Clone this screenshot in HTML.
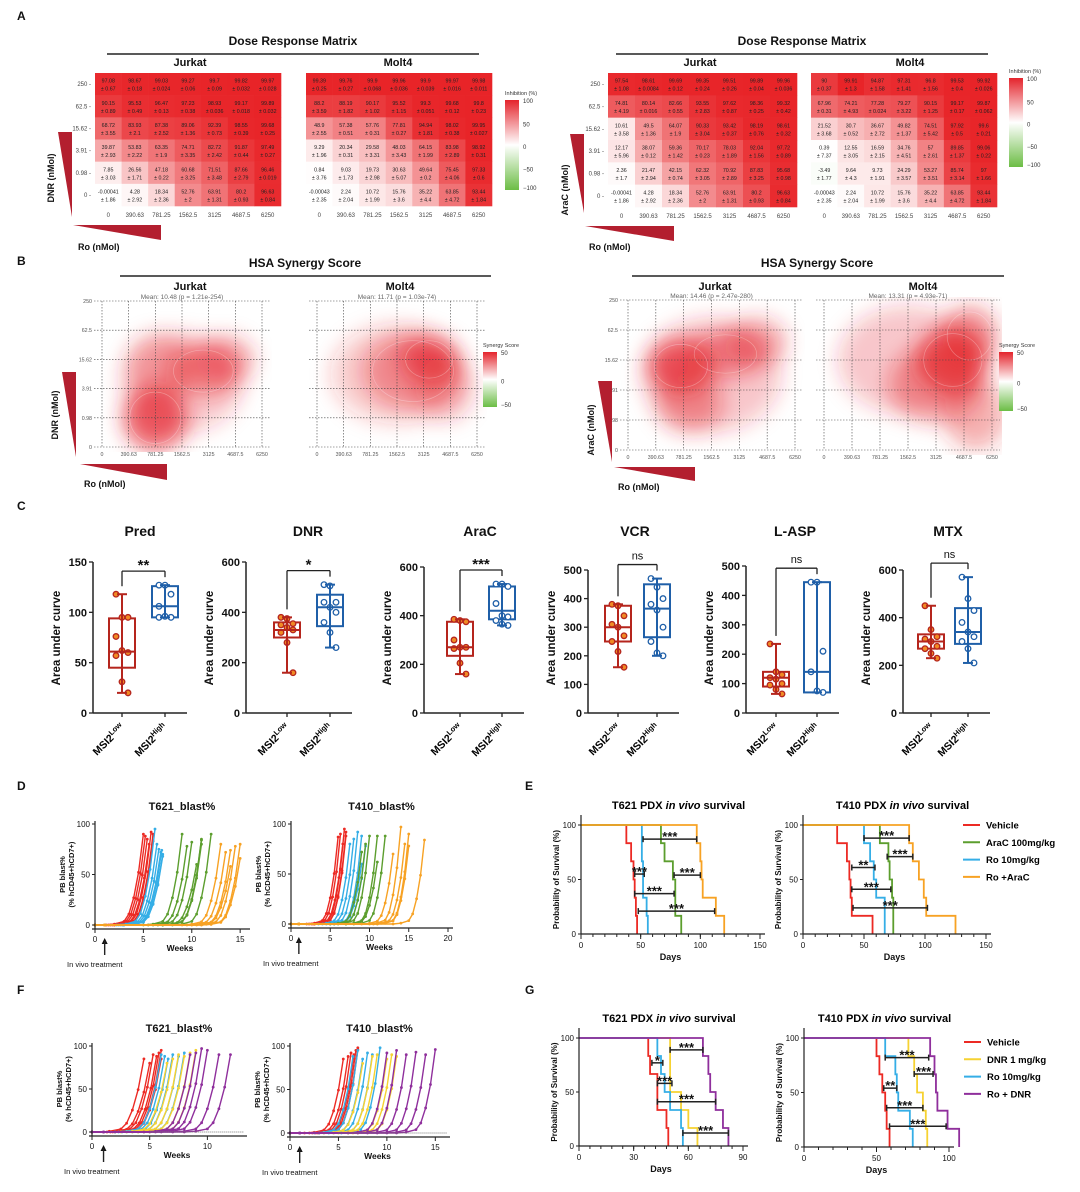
<!DOCTYPE html>
<html><head><meta charset="utf-8"><style>
body{margin:0;background:#fff}
svg{display:block;font-family:"Liberation Sans",Arial,sans-serif}
</style></head><body>
<svg id="fig" width="1080" height="1192" viewBox="0 0 1080 1192" xmlns="http://www.w3.org/2000/svg">
<defs>
<filter id="blur" x="-30%" y="-30%" width="160%" height="160%"><feGaussianBlur stdDeviation="10"/></filter>
<linearGradient id="cbar" x1="0" y1="0" x2="0" y2="1"><stop offset="0" stop-color="#e4242c"/><stop offset="0.5" stop-color="#ffffff"/><stop offset="1" stop-color="#6cbd45"/></linearGradient>
</defs>
</svg>
<script>
// ---------- DATA ----------
const doseCols=['0','390.63','781.25','1562.5','3125','4687.5','6250'];
const doseRows=['250','62.5','15.62','3.91','0.98','0'];
const jurkatDNR=[[97.08,98.67,99.03,99.27,99.7,99.82,99.97],[90.15,95.53,96.47,97.23,98.93,99.17,99.89],[68.72,83.93,87.38,89.06,92.39,98.55,99.68],[39.87,53.83,63.35,74.71,82.72,91.87,97.49],[7.85,26.56,47.18,60.68,71.51,87.66,96.46],[-0.00041,4.28,18.34,52.76,63.91,80.2,96.63]];
const jurkatDNRsd=[[0.67,0.18,0.024,0.06,0.09,0.032,0.028],[0.89,0.49,0.13,0.38,0.036,0.018,0.032],[3.55,2.1,2.52,1.36,0.73,0.39,0.25],[2.93,2.22,1.9,3.35,2.42,0.44,0.27],[3.03,1.71,0.22,3.25,3.48,2.79,0.019],[1.86,2.92,2.36,2,1.31,0.93,0.84]];
const molt4DNR=[[99.39,99.76,99.9,99.96,99.9,99.97,99.98],[88.2,88.19,90.17,95.52,99.3,99.68,99.8],[48.9,57.38,57.76,77.81,94.94,98.02,99.95],[9.29,20.34,29.58,48.03,64.15,83.98,98.92],[0.84,9.03,19.73,30.63,49.64,75.45,97.33],[-0.00043,2.24,10.72,15.76,35.22,63.85,93.44]];
const molt4DNRsd=[[0.25,0.27,0.068,0.036,0.039,0.016,0.011],[3.59,1.82,1.02,1.15,0.051,0.12,0.23],[2.55,0.51,0.31,0.27,1.81,0.38,0.027],[1.96,0.31,3.31,3.43,1.99,2.89,0.31],[3.76,1.73,2.98,5.07,0.2,4.06,0.6],[2.35,2.04,1.99,3.6,4.4,4.72,1.84]];
const jurkatAraC=[[97.54,98.61,99.69,99.35,99.51,99.89,99.96],[74.81,80.14,82.66,93.55,97.62,98.36,99.32],[10.61,49.5,64.07,90.33,93.42,98.19,98.61],[12.17,38.07,59.36,70.17,78.03,92.04,97.72],[2.36,21.47,42.15,62.32,70.92,87.83,95.68],[-0.00041,4.28,18.34,52.76,63.91,80.2,96.63]];
const jurkatAraCsd=[[1.08,0.0084,0.12,0.24,0.26,0.04,0.036],[4.19,0.016,0.55,2.83,0.87,0.25,0.42],[3.58,1.36,1.9,3.04,0.37,0.76,0.32],[5.96,0.12,1.42,0.23,1.89,1.56,0.89],[1.7,2.94,0.74,3.05,2.89,3.25,0.98],[1.86,2.92,2.36,2,1.31,0.93,0.84]];
const molt4AraC=[[90,99.91,94.87,97.31,96.8,99.53,99.92],[67.96,74.21,77.28,79.27,90.15,99.17,99.87],[21.52,30.7,36.67,49.82,74.51,97.92,99.6],[0.39,12.55,16.59,34.76,57,89.85,99.06],[-3.49,9.64,9.73,24.29,53.27,85.74,97],[-0.00043,2.24,10.72,15.76,35.22,63.85,93.44]];
const molt4AraCsd=[[0.37,1.3,1.58,1.41,1.56,0.4,0.026],[0.31,4.93,0.024,3.22,1.25,0.17,0.062],[3.68,0.52,2.72,1.37,5.42,0.5,0.21],[7.37,3.05,2.15,4.51,2.61,1.37,0.22],[1.77,4.3,1.91,3.57,3.51,3.14,1.66],[2.35,2.04,1.99,3.6,4.4,4.72,1.84]];
// synergy blobs: col index, row index (0=bottom), radii (index units), intensity
const synJurkatDNR_cx=[2,3.8,4.6,3,2.2],synJurkatDNR_cy=[1,2.6,3,2.2,2.8],synJurkatDNR_rx=[1.2,1.4,1.1,2.3,1.3],synJurkatDNR_ry=[1.1,0.9,0.8,1.7,1.1],synJurkatDNR_a=[0.9,0.55,0.5,0.3,0.4];
const synMolt4DNR_cx=[4.2,3.6,4.8,3],synMolt4DNR_cy=[3,2.6,2,2.5],synMolt4DNR_rx=[1.1,1.9,1.1,2.5],synMolt4DNR_ry=[0.8,1.3,1.1,1.7],synMolt4DNR_a=[0.8,0.5,0.35,0.28];
const synJurkatAraC_cx=[1.9,3.5,4.6,2.2,3],synJurkatAraC_cy=[2.8,3.2,3.6,1.6,2.5],synJurkatAraC_rx=[1.2,1.4,1.1,1.2,2.5],synJurkatAraC_ry=[0.9,0.8,0.8,1.0,1.9],synJurkatAraC_a=[0.9,0.55,0.5,0.5,0.32];
const synMolt4AraC_cx=[4.6,5.2,4,5.4,3],synMolt4AraC_cy=[3,3.8,2.2,1.2,3],synMolt4AraC_rx=[1.3,1.0,1.7,1.1,2.5],synMolt4AraC_ry=[1.1,1.0,1.3,1.2,1.8],synMolt4AraC_a=[0.9,0.6,0.5,0.45,0.32];
// AUC boxplots
const aucDrugs=['Pred','DNR','AraC','VCR','L-ASP','MTX'];
const aucMax=[150,600,600,500,500,600];
const aucStep=[50,200,200,100,100,200];
const aucSig=['**','*','***','ns','ns','ns'];
const aucLow=[[118,95,95,76,62,60,57,31,20],[380,375,355,350,340,330,320,280,160],[385,380,375,300,270,270,265,205,160],[380,375,340,310,300,270,250,215,160],[235,140,130,120,115,100,95,80,65],[450,350,320,310,300,280,270,250,230]];
const aucHigh=[[127,127,118,106,96,95,95],[510,505,440,440,420,400,360,320,260],[530,530,520,450,400,395,380,365,360],[470,440,400,380,360,300,250,210,200],[445,445,210,140,75,70],[570,480,430,380,340,320,300,270,210]];
const aucLowBox=[[45,61,94],[300,330,360],[235,270,375],[250,300,375],[90,120,140],[270,300,330]];
const aucHighBox=[[95,106,126],[345,420,470],[385,420,520],[265,365,450],[70,140,445],[290,340,440]];
// blast% growth
const riseOff=[-4,-3,-2,-1.5,-1,-0.5,0];
const riseVal=[0,1,4,12,30,58,100];
const dT621_red=[5,5.2,5.4,5.6,5.8,6,6],dT621_blue=[6.2,6.4,6.6,6.8,7,7,6.9],dT621_green=[9,9.5,10,10.5,11,11,12,11],dT621_orange=[13,13.5,14,14,14.5,15,15];
const dT621_redF=[90,88,85,80,92,90,83],dT621_blueF=[95,80,75,72,70,68,74],dT621_greenF=[90,78,82,60,85,80,90,84],dT621_orangeF=[80,72,74,58,78,80,66];
const dT410_red=[6,6.3,6.6,6.8,7,7],dT410_blue=[7.5,8,8.5,9,9.5,9],dT410_green=[9,9.5,10,11,11,12],dT410_orange=[13,14,14.5,15,15,17];
const dT410_redF=[87,90,80,95,92,88],dT410_blueF=[80,85,92,88,78,60],dT410_greenF=[72,80,88,62,88,88],dT410_orangeF=[70,97,80,90,78,84];
const fT621_red=[4.5,5,5.3,5.6,5.8,6,6],fT621_blue=[6,6.3,6.6,7,7.5,8],fT621_yellow=[6.5,7,7.5,8,8.5,9],fT621_purple=[8.5,9,9.5,10,11,12];
const fT621_redF=[85,80,90,88,92,95,85],fT621_blueF=[90,88,85,90,88,92],fT621_yellowF=[80,85,90,88,92,95],fT621_purpleF=[90,92,97,95,90,90];
const fT410_red=[5.5,6,6.3,6.6,6.8,7,7],fT410_blue=[6.5,7,7.5,8,8.5,9.3],fT410_yellow=[7.5,8.5,9,10,10.5,11],fT410_purple=[10,11,12,13,14,15];
const fT410_redF=[85,88,92,90,95,98,96],fT410_blueF=[88,95,85,92,90,98],fT410_yellowF=[80,88,90,85,90,88],fT410_purpleF=[92,95,90,93,90,96];
// survival death days (n=6 each)
const eT621={veh:[38,42,44,45,46,47],ro:[51,51,52,52,55,56],ara:[67,70,77,79,79,84],combo:[97,100,101,102,113,120]};
const eT410={veh:[28,36,38,39,40,57],ro:[50,55,58,60,67,67],ara:[63,70,71,73,74,74],combo:[87,90,95,99,101,125]};
const gT621={veh:[38,39,43,43,48,49],dnr:[50,50,50,56,60,65],ro:[43,45,47,50,56,57],combo:[68,71,72,75,79,82]};
const gT410={veh:[50,52,54,56,57,59],dnr:[72,76,78,82,84,85],ro:[56,63,64,65,73,75],combo:[87,90,91,92,99,107]};
const eT621sig=[[52,97,87,'***'],[78,100,54,'***'],[45,53,55,'***'],[45,78,37,'***'],[48,112,21,'***']];
const eT410sig=[[50,87,88,'***'],[69,90,71,'***'],[40,59,61,'**'],[40,72,41,'***'],[41,102,24,'***']];
const gT621sig=[[50,68,89,'***'],[40,46,77,'*'],[43,51,58,'***'],[43,75,41,'***'],[57,82,12,'***']];
const gT410sig=[[56,86,82,'***'],[76,89,67,'***'],[55,64,54,'**'],[57,82,36,'***'],[59,98,19,'***']];

// ---------- HELPERS ----------
const NS='http://www.w3.org/2000/svg';
const S=document.getElementById('fig');
const RED='#ec2a24',GREEN='#5c9e2e',BLUE='#35aee6',ORANGE='#f7a224',YEL='#f6d232',PUR='#8f2f9c',DRED='#b31f2f';
function mk(t,a,p){const e=document.createElementNS(NS,t);for(const k in a)e.setAttribute(k,a[k]);(p||S).appendChild(e);return e;}
function tag(e,n){
  
  
  return e;}
function txt(x,y,s,o,name){o=o||{};const e=mk('text',Object.assign({x:x,y:y,'font-size':10,'text-anchor':'middle',fill:'#111'},o));e.textContent=s;tag(e,name||'label');return e;}
function line(x1,y1,x2,y2,o,name){const e=mk('line',Object.assign({x1:x1,y1:y1,x2:x2,y2:y2,stroke:'#222','stroke-width':1},o));tag(e,name||'line');return e;}
function lin(d0,d1,r0,r1){return v=>r0+(v-d0)*(r1-r0)/(d1-d0);}
function g(name){const e=mk('g',{});tag(e,name);return e;}

[['A',17,20],['B',17,265],['C',17,510],['D',17,790],['E',525,790],['F',17,994],['G',525,994]].forEach(p=>{txt(p[1],p[2],p[0],{'font-size':12,'font-weight':'bold','text-anchor':'start'},'panel-letter-'+p[0]);});

// ---------- A: heatmaps ----------
function heatColor(v){
  if(v>=0){const t=Math.min(v,100)/100;return `rgb(${Math.round(255-(255-232)*t)},${Math.round(255-(255-36)*t)},${Math.round(255-(255-40)*t)})`;}
  const t=Math.min(-v,100)/100;return `rgb(${Math.round(255-(255-108)*t)},${Math.round(255-(255-189)*t)},${Math.round(255-(255-69)*t)})`;
}
function heat(x0,y0,x1,y1,vals,sds,showY,name){
  const G=g(name);const cw=(x1-x0)/7,ch=(y1-y0)/6;
  const cx=lin(0,7,x0,x1),cy=lin(0,6,y0,y1);
  vals.forEach((row,r)=>row.forEach((v,c)=>{
    const rc=mk('rect',{x:cx(c),y:cy(r),width:cw+0.3,height:ch+0.3,fill:heatColor(v)},G);
    
    
    const t1=mk('text',{x:cx(c)+cw/2,y:cy(r)+ch/2-1.5,'font-size':5.3,'text-anchor':'middle',fill:'#222'},G);t1.textContent=v;tag(t1,'cell-value');
    const t2=mk('text',{x:cx(c)+cw/2,y:cy(r)+ch/2+6.5,'font-size':5.3,'text-anchor':'middle',fill:'#222'},G);t2.textContent='± '+sds[r][c];tag(t2,'cell-sd');
  }));
  doseCols.forEach((l,c)=>{const t=mk('text',{x:cx(c)+cw/2,y:y1+11,'font-size':6,'text-anchor':'middle',fill:'#444'},G);t.textContent=l;tag(t,'x-tick-label');});
  if(showY)doseRows.forEach((l,r)=>{const t=mk('text',{x:x0-4,y:cy(r)+ch/2+2,'font-size':6,'text-anchor':'end',fill:'#444'},G);t.textContent=l+' -';tag(t,'y-tick-label');});
}
function colorbar(x,y0,y1,title,ticks,name){
  const G=g(name);
  const r=mk('rect',{x:x,y:y0,width:14,height:y1-y0,fill:'url(#cbar)'},G);tag(r,'colorbar-gradient');
  const t=mk('text',{x:x,y:y0-5,'font-size':5.5,fill:'#333'},G);t.textContent=title;tag(t,'colorbar-title');
  ticks.forEach((v,i)=>{const yy=y0+(y1-y0)*i/(ticks.length-1)+4;const k=mk('text',{x:x+18,y:i==0?yy-1:(i==ticks.length-1?yy-4:yy),'font-size':6,fill:'#333'},G);k.textContent=v;tag(k,'colorbar-tick');});
}
function header(cx,x0,x1,y,title,name){
  txt(cx,y,title,{'font-size':12,'font-weight':'bold'},name+'-title');
  line(x0,y+9,x1,y+9,{'stroke-width':1.6},name+'-rule');
}
function tri(pts,name){const e=mk('polygon',{points:pts,fill:DRED});tag(e,name);}
header(293,107,479,45,'Dose Response Matrix','dose-matrix-left');
txt(190,66,'Jurkat',{'font-size':11,'font-weight':'bold'},'jurkat-label');
txt(398,66,'Molt4',{'font-size':11,'font-weight':'bold'},'molt4-label');
heat(95,73,281,206,jurkatDNR,jurkatDNRsd,true,'heatmap-jurkat-dnr');
heat(306,73,492,206,molt4DNR,molt4DNRsd,false,'heatmap-molt4-dnr');
colorbar(505,100,190,'Inhibition (%)',['100','50','0','−50','−100'],'colorbar-inhibition-left');
tri('58,132 72,132 72,217','dnr-dose-triangle');
txt(54,178,'DNR (nMol)',{'font-size':9,'font-weight':'bold',transform:'rotate(-90 54 178)'},'dnr-axis-title');
tri('73,225 161,225 161,240','ro-dose-triangle');
txt(78,250,'Ro (nMol)',{'font-size':9,'font-weight':'bold','text-anchor':'start'},'ro-axis-title');

header(802,616,988,45,'Dose Response Matrix','dose-matrix-right');
txt(700,66,'Jurkat',{'font-size':11,'font-weight':'bold'},'jurkat-label');
txt(910,66,'Molt4',{'font-size':11,'font-weight':'bold'},'molt4-label');
heat(608,73,797,207,jurkatAraC,jurkatAraCsd,true,'heatmap-jurkat-arac');
heat(811,73,997,207,molt4AraC,molt4AraCsd,false,'heatmap-molt4-arac');
colorbar(1009,78,167,'Inhibition (%)',['100','50','0','−50','−100'],'colorbar-inhibition-right');
tri('570,134 584,134 584,213','arac-dose-triangle');
txt(568,190,'AraC (nMol)',{'font-size':9,'font-weight':'bold',transform:'rotate(-90 568 190)'},'arac-axis-title');
tri('585,226 674,226 674,241','ro-dose-triangle');
txt(589,250,'Ro (nMol)',{'font-size':9,'font-weight':'bold','text-anchor':'start'},'ro-axis-title');

// ---------- B: synergy ----------
let clipN=0;
function synergy(x0,x1,y0,y1,cxs,cys,rxs,rys,as,mean,showY,name){
  const G=g(name);
  const sx=lin(0,6,x0,x1),sy=lin(0,5,y1,y0);
  const ux=(x1-x0)/6,uy=(y1-y0)/5;
  const cid='clip'+(clipN++);
  const cp=mk('clipPath',{id:cid},S.querySelector('defs'));
  mk('rect',{x:x0-10,y:y0-3,width:x1-x0+20,height:y1-y0+8},cp);
  const B=mk('g',{'clip-path':`url(#${cid})`},G);tag(B,'synergy-surface');
  const F=mk('g',{filter:'url(#blur)'},B);tag(F,'synergy-blur');
  cxs.forEach((c,i)=>{
    const e=mk('ellipse',{cx:sx(c),cy:sy(cys[i]),rx:rxs[i]*ux,ry:rys[i]*uy,fill:'#e4242c','fill-opacity':as[i]*0.8},F);
    
    
  });
  cxs.slice(0,2).forEach((c,i)=>{const e=mk('ellipse',{cx:sx(c),cy:sy(cys[i]),rx:rxs[i]*ux*0.8,ry:rys[i]*uy*0.8,fill:'none',stroke:'#fff','stroke-opacity':0.3,'stroke-width':0.7},B);tag(e,'synergy-contour');});
  for(let k=0;k<=6;k++){const l=mk('line',{x1:sx(k),y1:y0,x2:sx(k),y2:y1,stroke:'#444','stroke-width':0.6,'stroke-dasharray':'1.5,1.5'},G);tag(l,'grid-line-x');
    const t=mk('text',{x:sx(k),y:y1+9,'font-size':5.3,'text-anchor':'middle',fill:'#555'},G);t.textContent=doseCols[k];tag(t,'x-tick-label');}
  for(let k=0;k<=5;k++){const l=mk('line',{x1:x0-8,y1:sy(k),x2:x1+8,y2:sy(k),stroke:'#444','stroke-width':0.6,'stroke-dasharray':'1.5,1.5'},G);tag(l,'grid-line-y');
    if(showY){const t=mk('text',{x:x0-10,y:sy(k)+2,'font-size':5.3,'text-anchor':'end',fill:'#555'},G);t.textContent=doseRows[5-k];tag(t,'y-tick-label');}}
  const m=mk('text',{x:(x0+x1)/2,y:y0-2,'font-size':6.5,'text-anchor':'middle',fill:'#666'},G);m.textContent=mean;tag(m,'mean-annotation');
}
header(305,120,491,267,'HSA Synergy Score','hsa-left');
txt(190,290,'Jurkat',{'font-size':11,'font-weight':'bold'},'jurkat-label');
txt(400,290,'Molt4',{'font-size':11,'font-weight':'bold'},'molt4-label');
synergy(102,262,301,447,synJurkatDNR_cx,synJurkatDNR_cy,synJurkatDNR_rx,synJurkatDNR_ry,synJurkatDNR_a,'Mean: 10.48 (p = 1.21e-254)',true,'synergy-jurkat-dnr');
synergy(317,477,301,447,synMolt4DNR_cx,synMolt4DNR_cy,synMolt4DNR_rx,synMolt4DNR_ry,synMolt4DNR_a,'Mean: 11.71 (p = 1.03e-74)',false,'synergy-molt4-dnr');
colorbar(483,352,407,'Synergy Score',['50','0','−50'],'colorbar-synergy-left');
tri('62,372 76,372 76,457','dnr-dose-triangle');
txt(58,415,'DNR (nMol)',{'font-size':9,'font-weight':'bold',transform:'rotate(-90 58 415)'},'dnr-axis-title');
tri('80,464 167,464 167,480','ro-dose-triangle');
txt(84,487,'Ro (nMol)',{'font-size':9,'font-weight':'bold','text-anchor':'start'},'ro-axis-title');

header(817,632,1004,267,'HSA Synergy Score','hsa-right');
txt(715,290,'Jurkat',{'font-size':11,'font-weight':'bold'},'jurkat-label');
txt(923,290,'Molt4',{'font-size':11,'font-weight':'bold'},'molt4-label');
synergy(628,795,300,450,synJurkatAraC_cx,synJurkatAraC_cy,synJurkatAraC_rx,synJurkatAraC_ry,synJurkatAraC_a,'Mean: 14.46 (p = 2.47e-280)',true,'synergy-jurkat-arac');
synergy(824,992,300,450,synMolt4AraC_cx,synMolt4AraC_cy,synMolt4AraC_rx,synMolt4AraC_ry,synMolt4AraC_a,'Mean: 13.31 (p = 4.93e-71)',false,'synergy-molt4-arac');
colorbar(999,352,411,'Synergy Score',['50','0','−50'],'colorbar-synergy-right');
tri('598,381 612,381 612,462','arac-dose-triangle');
txt(594,430,'AraC (nMol)',{'font-size':9,'font-weight':'bold',transform:'rotate(-90 594 430)'},'arac-axis-title');
tri('614,467 695,467 695,481','ro-dose-triangle');
txt(618,490,'Ro (nMol)',{'font-size':9,'font-weight':'bold','text-anchor':'start'},'ro-axis-title');

// ---------- C: boxplots ----------
const aucAxisX=[93,246,424,588,746,903],aucTopY=[562,562,567,570,566,570],aucLowX=[122,287,460,618,776,931],aucHighX=[165,330,502,657,817,968];
const aucTitleX=[140,308,480,635,795,948];
aucDrugs.forEach((d,i)=>{
  const G=g('auc-plot-'+d.toLowerCase());
  const y=lin(0,aucMax[i],713,aucTopY[i]);
  txt(aucTitleX[i],536,d,{'font-size':14,'font-weight':'bold'},'auc-title-'+d.toLowerCase());
  line(aucAxisX[i],y(aucMax[i]),aucAxisX[i],713,{'stroke-width':1.5},'y-axis');
  line(aucAxisX[i],713,aucHighX[i]+22,713,{'stroke-width':1.5},'x-axis');
  for(let v=0;v<=aucMax[i];v+=aucStep[i]){line(aucAxisX[i]-4,y(v),aucAxisX[i],y(v),{'stroke-width':1.3},'y-tick');txt(aucAxisX[i]-6,y(v)+4,String(v),{'font-size':11,'font-weight':'bold','text-anchor':'end'},'y-tick-label');}
  const yt=aucAxisX[i]-33;txt(yt,638,'Area under curve',{'font-size':11.5,'font-weight':'bold',transform:`rotate(-90 ${yt} 638)`},'y-axis-title');
  [[aucLowX[i],aucLow[i],aucLowBox[i],'#b5251d','#f08a24','low'],[aucHighX[i],aucHigh[i],aucHighBox[i],'#1f5fa8','#fff','high']].forEach(s=>{
    const [cx,pts,bx,col,fillc,lab]=s;
    line(cx,713,cx,717,{'stroke-width':1.3},'x-tick');
    line(cx,y(Math.max(...pts)),cx,y(Math.min(...pts)),{stroke:col,'stroke-width':2},'whisker-'+lab);
    line(cx-5,y(Math.max(...pts)),cx+5,y(Math.max(...pts)),{stroke:col,'stroke-width':2},'whisker-cap');
    line(cx-5,y(Math.min(...pts)),cx+5,y(Math.min(...pts)),{stroke:col,'stroke-width':2},'whisker-cap');
    const b=mk('rect',{x:cx-13,y:y(bx[2]),width:26,height:y(bx[0])-y(bx[2]),fill:'#fff',stroke:col,'stroke-width':2},G);
    
    
    line(cx-13,y(bx[1]),cx+13,y(bx[1]),{stroke:col,'stroke-width':2},'median-'+lab);
    pts.forEach((v,k)=>{const jx=cx+((k%3)-1)*6;const c=mk('circle',{cx:jx,cy:y(v),r:2.8,fill:fillc,stroke:col,'stroke-width':1.3},G);
      
      });
    const lx=cx+3,ly=728;
    const t=mk('text',{x:lx,y:ly,'font-size':10.5,'font-weight':'bold','text-anchor':'end',transform:`rotate(-45 ${lx} ${ly})`},G);tag(t,'x-tick-label');
    t.textContent='MSI2';const ts=mk('tspan',{dy:-4,'font-size':7.5},t);ts.textContent=lab=='low'?'Low':'High';
  });
  const top=y(Math.max(...aucHigh[i],...aucLow[i]))-14;
  line(aucLowX[i],top,aucHighX[i],top,{'stroke-width':1.3},'sig-bracket');
  line(aucLowX[i],top,aucLowX[i],y(Math.max(...aucLow[i]))-8,{'stroke-width':1.3},'sig-bracket');
  line(aucHighX[i],top,aucHighX[i],y(Math.max(...aucHigh[i]))-8,{'stroke-width':1.3},'sig-bracket');
  txt((aucLowX[i]+aucHighX[i])/2,top-(aucSig[i]=='ns'?5:1),aucSig[i],{'font-size':aucSig[i]=='ns'?11:15,'font-weight':aucSig[i]=='ns'?'normal':'bold'},'significance');
});

// ---------- D/F: blast% ----------
function blast(x0,x1,y0,y1,xmax,xticks,title,groups,dotted,name){
  const G=g(name);
  const sx=lin(0,xmax,x0,x1),sy=lin(0,100,y1,y0);
  txt((x0+x1)/2+12,y0-14,title,{'font-size':11,'font-weight':'bold'},'chart-title');
  line(x0,y0-3,x0,y1+4,{'stroke-width':1.2},'y-axis');line(x0-3,y1+4,x1+5,y1+4,{'stroke-width':1.2},'x-axis');
  [0,50,100].forEach(v=>{line(x0-3,sy(v),x0,sy(v),{},'y-tick');txt(x0-5,sy(v)+3,String(v),{'font-size':8,'text-anchor':'end'},'y-tick-label');});
  xticks.forEach(v=>{line(sx(v),y1+4,sx(v),y1+8,{},'x-tick');txt(sx(v),y1+17,String(v),{'font-size':8},'x-tick-label');});
  txt((x0+x1)/2+10,y1+26,'Weeks',{'font-size':8.5,'font-weight':'bold'},'x-axis-title');
  const ty=(y0+y1)/2;
  txt(x0-30,ty,'PB blast%',{'font-size':7.5,'font-weight':'bold',transform:`rotate(-90 ${x0-30} ${ty})`},'y-axis-title');
  txt(x0-21,ty,'(% hCD45+hCD7+)',{'font-size':7.5,'font-weight':'bold',transform:`rotate(-90 ${x0-21} ${ty})`},'y-axis-title');
  if(dotted)line(sx(5),sy(0),x1+2,sy(0),{stroke:'#777','stroke-dasharray':'1,1'},'baseline');
  groups.forEach(gr=>{
    const [ends,finals,col]=gr;
    ends.forEach((e,k)=>{
      const pts=[[0,0],[1,0]];
      riseOff.forEach((o,j)=>{const w=e+o;if(w>1)pts.push([w,riseVal[j]*finals[k]/100]);});
      const p=mk('polyline',{points:pts.map(q=>sx(q[0])+','+sy(q[1])).join(' '),fill:'none',stroke:col,'stroke-width':1.4},G);
      
      
      pts.forEach(q=>{const c=mk('circle',{cx:sx(q[0]),cy:sy(q[1]),r:1.4,fill:col},G);
        
        });
    });
  });
  const ax=sx(1);
  line(ax,y1+30,ax,y1+16,{'stroke-width':1.4},'treatment-arrow');
  const a=mk('polygon',{points:`${ax-3},${y1+19} ${ax+3},${y1+19} ${ax},${y1+13}`,fill:'#111'},G);tag(a,'treatment-arrowhead');
  txt(x0-28,y1+42,'In vivo treatment',{'font-size':7.5,'text-anchor':'start'},'treatment-label');
}
blast(95,245,824,925,15.5,[0,5,10,15],'T621_blast%',[[dT621_red,dT621_redF,RED],[dT621_blue,dT621_blueF,BLUE],[dT621_green,dT621_greenF,GREEN],[dT621_orange,dT621_orangeF,ORANGE]],false,'blast-d-t621');
blast(291,448,824,924,20,[0,5,10,15,20],'T410_blast%',[[dT410_red,dT410_redF,RED],[dT410_blue,dT410_blueF,BLUE],[dT410_green,dT410_greenF,GREEN],[dT410_orange,dT410_orangeF,ORANGE]],false,'blast-d-t410');
blast(92,242,1046,1132,13,[0,5,10],'T621_blast%',[[fT621_red,fT621_redF,RED],[fT621_blue,fT621_blueF,BLUE],[fT621_yellow,fT621_yellowF,YEL],[fT621_purple,fT621_purpleF,PUR]],true,'blast-f-t621');
blast(290,445,1046,1133,16,[0,5,10,15],'T410_blast%',[[fT410_red,fT410_redF,RED],[fT410_blue,fT410_blueF,BLUE],[fT410_yellow,fT410_yellowF,YEL],[fT410_purple,fT410_purpleF,PUR]],true,'blast-f-t410');

// ---------- E/G: survival ----------
function km(x0,x1,y0,y1,xmax,xticks,minor,title,series,sigs,name){
  const G=g(name);
  const sx=lin(0,xmax,x0,x1),sy=lin(0,100,y1,y0);
  const t=mk('text',{x:(x0+x1)/2+8,y:y0-16,'font-size':11,'font-weight':'bold','text-anchor':'middle'},G);tag(t,'chart-title');
  t.innerHTML='<tspan>'+title+' PDX </tspan><tspan font-style="italic">in vivo</tspan><tspan> survival</tspan>';
  line(x0,y0-10,x0,y1,{'stroke-width':1.2},'y-axis');line(x0,y1,x1+5,y1,{'stroke-width':1.2},'x-axis');
  [0,50,100].forEach(v=>{line(x0-3,sy(v),x0,sy(v),{},'y-tick');txt(x0-5,sy(v)+3,String(v),{'font-size':8,'text-anchor':'end'},'y-tick-label');});
  for(let v=0;v<=xmax;v+=minor)line(sx(v),y1,sx(v),y1+3,{},'x-minor-tick');
  xticks.forEach(v=>{line(sx(v),y1,sx(v),y1+5,{},'x-tick');txt(sx(v),y1+14,String(v),{'font-size':8},'x-tick-label');});
  txt((x0+x1)/2,y1+26,'Days',{'font-size':9,'font-weight':'bold'},'x-axis-title');
  const ty=(y0+y1)/2;txt(x0-22,ty,'Probability of Survival (%)',{'font-size':8,'font-weight':'bold',transform:`rotate(-90 ${x0-22} ${ty})`},'y-axis-title');
  series.forEach(s=>{
    const [days,col,nm]=s;let d=`M${sx(0)},${sy(100)}`;let surv=100;
    days.forEach(dd=>{d+=` H${sx(dd)}`;surv-=100/days.length;d+=` V${sy(surv)}`;});
    const p=mk('path',{d:d,fill:'none',stroke:col,'stroke-width':1.8},G);
    
    
  });
  sigs.forEach(s=>{
    line(sx(s[0]),sy(s[2]),sx(s[1]),sy(s[2]),{'stroke-width':1.5},'sig-bracket');
    line(sx(s[0]),sy(s[2])-3,sx(s[0]),sy(s[2])+3,{'stroke-width':1.5},'sig-bracket-end');
    line(sx(s[1]),sy(s[2])-3,sx(s[1]),sy(s[2])+3,{'stroke-width':1.5},'sig-bracket-end');
    txt((sx(s[0])+sx(s[1]))/2,sy(s[2])+2,s[3],{'font-size':13,'font-weight':'bold'},'significance');
  });
}
km(581,760,825,934,150,[0,50,100,150],10,'T621',[[eT621.veh,RED,'vehicle'],[eT621.ro,BLUE,'ro'],[eT621.ara,GREEN,'arac'],[eT621.combo,ORANGE,'ro-arac']],eT621sig,'survival-e-t621');
km(803,986,825,934,150,[0,50,100,150],10,'T410',[[eT410.veh,RED,'vehicle'],[eT410.ro,BLUE,'ro'],[eT410.ara,GREEN,'arac'],[eT410.combo,ORANGE,'ro-arac']],eT410sig,'survival-e-t410');
km(579,743,1038,1146,90,[0,30,60,90],6,'T621',[[gT621.veh,RED,'vehicle'],[gT621.dnr,YEL,'dnr'],[gT621.ro,BLUE,'ro'],[gT621.combo,PUR,'ro-dnr']],gT621sig,'survival-g-t621');
km(804,949,1038,1147,100,[0,50,100],10,'T410',[[gT410.veh,RED,'vehicle'],[gT410.dnr,YEL,'dnr'],[gT410.ro,BLUE,'ro'],[gT410.combo,PUR,'ro-dnr']],gT410sig,'survival-g-t410');
function legend(x,y,items,name){
  const G=g(name);
  items.forEach((it,i)=>{const yy=y+i*17.3;
    const l=mk('line',{x1:x,y1:yy,x2:x+17,y2:yy,stroke:it[1],'stroke-width':2},G);tag(l,'legend-swatch');
    const t=mk('text',{x:x+23,y:yy+3.5,'font-size':9.5,'font-weight':'bold'},G);t.textContent=it[0];tag(t,'legend-label');});
}
legend(963,825,[['Vehicle',RED],['AraC 100mg/kg',GREEN],['Ro 10mg/kg',BLUE],['Ro +AraC',ORANGE]],'legend-e');
legend(964,1042,[['Vehicle',RED],['DNR 1 mg/kg',YEL],['Ro 10mg/kg',BLUE],['Ro + DNR',PUR]],'legend-g');
</script>
</body></html>
